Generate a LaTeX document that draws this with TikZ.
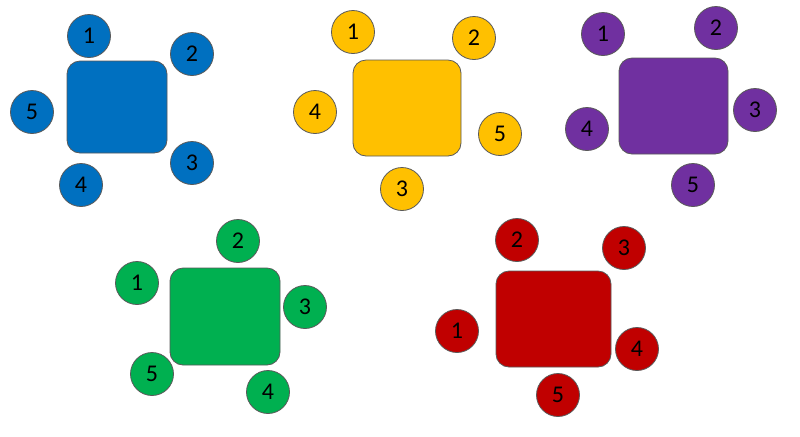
\documentclass[tikz,border=0pt]{standalone}
\usepackage{fontspec}
\setmainfont{Carlito}
\usetikzlibrary{positioning}
\definecolor{seatblue}{HTML}{0070C0}
\definecolor{seatyellow}{HTML}{FFC000}
\definecolor{seatpurple}{HTML}{7030A0}
\definecolor{seatgreen}{HTML}{00B050}
\definecolor{seatred}{HTML}{C00000}
\tikzset{
  desk/.style={rectangle,rounded corners=6.5pt,draw=black!65,line width=.4pt,inner sep=0pt},
  chair/.style={circle,draw=black!65,line width=.4pt,minimum size=21.5pt,inner sep=0pt,font=\fontsize{12}{14}\selectfont},
}
\begin{document}
\begin{tikzpicture}[x=.5pt,y=-.5pt]
	    \useasboundingbox (0,0) rectangle (800,436);
	    % blue
	    \node[desk,fill=seatblue,minimum width=50pt,minimum height=46pt] (blue) at (117,107) {};
	    \foreach \n/\x/\y in {1/89/36,2/192/54,3/192/163,4/81/185,5/32/112}
	      \node[chair,fill=seatblue] (blue-\n) at (\x,\y) {\n};
	    % yellow
	    \node[desk,fill=seatyellow,minimum width=54pt,minimum height=48pt] (yellow) at (407,108) {};
	    \foreach \n/\x/\y in {1/353/32,2/474/38,3/402/189,4/315/112,5/500/134}
	      \node[chair,fill=seatyellow] (yellow-\n) at (\x,\y) {\n};
	    % purple
	    \node[desk,fill=seatpurple,minimum width=54.5pt,minimum height=48pt] (purple) at (673.5,106) {};
	    \foreach \n/\x/\y in {1/603/34,2/716/28,3/755/110,4/587/129,5/693/185}
	      \node[chair,fill=seatpurple] (purple-\n) at (\x,\y) {\n};
	    % green
	    \node[desk,fill=seatgreen,minimum width=55pt,minimum height=48.5pt] (green) at (225,316.5) {};
	    \foreach \n/\x/\y in {1/137/283,2/238/241,3/305/307,4/268/392,5/152/374}
	      \node[chair,fill=seatgreen] (green-\n) at (\x,\y) {\n};
	    % red
	    \node[desk,fill=seatred,minimum width=57.5pt,minimum height=48pt] (red) at (553.5,319) {};
	    \foreach \n/\x/\y in {1/457/331,2/517/240,3/624/248,4/637/349,5/558/395}
	      \node[chair,fill=seatred] (red-\n) at (\x,\y) {\n};
	\end{tikzpicture}
\end{document}
